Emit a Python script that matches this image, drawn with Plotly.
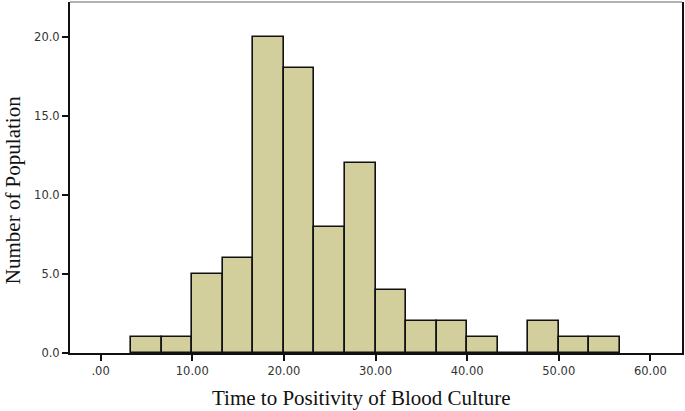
import plotly.graph_objects as go

# histogram of time to positivity (bin width 10/3)
bin_width = 10 / 3
bin_left = [3.33, 6.67, 10.0, 13.33, 16.67, 20.0, 23.33, 26.67,
            30.0, 33.33, 36.67, 40.0, 43.33, 46.67, 50.0, 53.33]
counts = [1, 1, 5, 6, 20, 18, 8, 12, 4, 2, 2, 1, 0, 2, 1, 1]

x_ticks = [0, 10, 20, 30, 40, 50, 60]
x_ticktext = [".00", "10.00", "20.00", "30.00", "40.00", "50.00", "60.00"]
y_ticks = [0, 5, 10, 15, 20]
y_ticktext = ["0.0", "5.0", "10.0", "15.0", "20.0"]

centers = [b + bin_width / 2 for b in bin_left]

fig = go.Figure()
fig.add_trace(go.Bar(
    x=centers, y=counts, width=bin_width,
    marker=dict(color="#d3cf9c", line=dict(color="#111111", width=1.6)),
    showlegend=False,
))

tick_font = dict(family="DejaVu Sans", size=11.5, color="#333333")
serif = dict(family="Liberation Serif, Times New Roman, serif", size=21, color="#111111")

fig.update_xaxes(
    range=[-3.34, 63.45], tickvals=x_ticks, ticktext=x_ticktext,
    ticks="outside", ticklen=6, tickwidth=2, tickcolor="#111111",
    showline=True, linecolor="#111111", linewidth=2,
    showgrid=False, zeroline=False, tickfont=tick_font,
)
fig.update_yaxes(
    range=[0, 22.2], tickvals=y_ticks, ticktext=y_ticktext,
    ticks="outside", ticklen=6, tickwidth=2, tickcolor="#111111",
    showline=True, linecolor="#111111", linewidth=2, mirror=True,
    showgrid=False, zeroline=False, tickfont=tick_font,
)
# thin grey top border of the frame
fig.add_shape(type="line", xref="paper", yref="paper", x0=0, x1=1, y0=1, y1=1,
              line=dict(color="#666666", width=1.2))

fig.add_annotation(text="Time to Positivity of Blood Culture", xref="paper", yref="paper",
                   x=0.477, y=-0.087, xanchor="center", yanchor="top",
                   showarrow=False, font=serif)
fig.add_annotation(text="Number of Population", xref="paper", yref="paper",
                   x=-0.092, y=0.463, xanchor="center", yanchor="middle", textangle=-90,
                   showarrow=False, font=serif)

fig.update_layout(
    width=685, height=411,
    margin=dict(l=70, r=3, t=2, b=58),
    paper_bgcolor="white", plot_bgcolor="white",
    bargap=0,
)
fig.write_html("out.html", config={"displayModeBar": False},
               post_script="document.body.style.margin='0';")
